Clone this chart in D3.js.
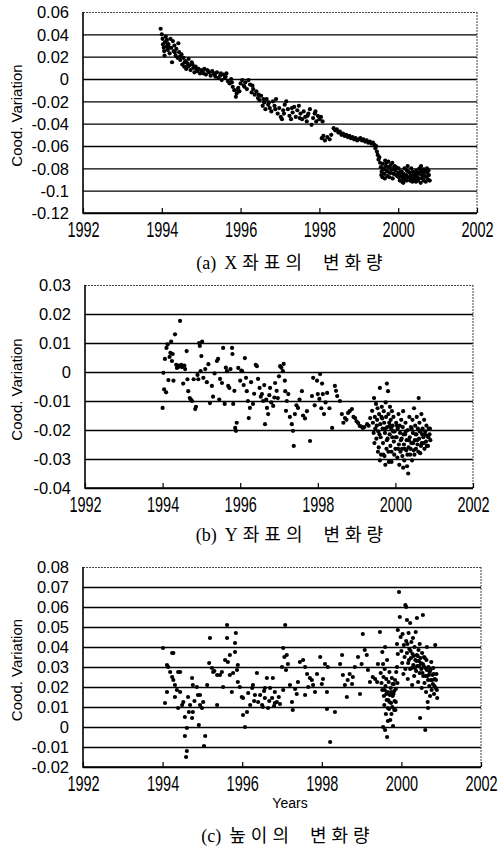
<!DOCTYPE html>
<html>
<head>
<meta charset="utf-8">
<script src="https://cdn.jsdelivr.net/npm/d3@7"></script>
<style>
  body { margin: 0; background: #fff; }
  svg { display: block; }
  .tick text { font-family: "Liberation Sans", Arial, sans-serif; fill: #000; }
</style>
</head>
<body>
<div id="chart"></div>
<script>
// year ticks shared by all three panels
var yearTicks = [1992, 1994, 1996, 1998, 2000, 2002];
var yTicksA = [-0.12, -0.1, -0.08, -0.06, -0.04, -0.02, 0, 0.02, 0.04, 0.06];
var yTicksB = [-0.04, -0.03, -0.02, -0.01, 0, 0.01, 0.02, 0.03];
var yTicksC = [-0.02, -0.01, 0, 0.01, 0.02, 0.03, 0.04, 0.05, 0.06, 0.07, 0.08];
var captions = ["(a) X좌표의 변화량", "(b) Y좌표의 변화량", "(c) 높이의 변화량"];
var yTitle = "Cood. Variation";
var xTitle = "Years";

// (a) X coordinate variation  [year, value]
var dataX = [
[1993.97,0.045],[1994.0,0.040],[1994.02,0.036],[1994.03,0.031],[1994.05,0.028],[1994.06,0.025],[1994.08,0.033],[1994.1,0.038],
[1994.12,0.029],[1994.13,0.035],[1994.15,0.026],[1994.17,0.031],[1994.2,0.023],[1994.22,0.036],[1994.24,0.028],[1994.26,0.015],
[1994.28,0.034],[1994.3,0.025],[1994.32,0.030],[1994.35,0.021],[1994.37,0.027],[1994.4,0.019],[1994.42,0.032],[1994.44,0.024],
[1994.47,0.017],[1994.5,0.022],[1994.52,0.013],[1994.55,0.019],[1994.57,0.011],[1994.6,0.016],[1994.62,0.009],[1994.65,0.014],
[1994.68,0.018],[1994.7,0.012],[1994.73,0.008],[1994.76,0.015],[1994.8,0.010],[1994.83,0.006],[1994.86,0.011],[1994.9,0.007],
[1994.93,0.009],[1994.97,0.005],[1995.0,0.008],[1995.04,0.006],[1995.08,0.009],[1995.12,0.004],[1995.15,0.008],[1995.2,0.006],
[1995.24,0.003],[1995.28,0.007],[1995.32,0.005],[1995.36,0.002],[1995.4,0.006],[1995.44,0.001],[1995.48,0.003],[1995.52,-0.001],
[1995.56,0.004],[1995.6,0.001],[1995.64,0.005],[1995.68,-0.002],[1995.72,-0.004],[1995.76,0.000],[1995.8,-0.007],[1995.84,-0.010],
[1995.88,-0.016],[1995.9,-0.013],[1995.94,-0.008],[1995.97,-0.011],[1996.0,-0.004],[1996.04,-0.001],[1996.08,-0.006],[1996.12,-0.003],
[1996.16,-0.009],[1996.2,-0.001],[1996.24,-0.005],[1996.28,-0.012],[1996.32,-0.009],[1996.36,-0.014],[1996.4,-0.011],[1996.44,-0.017],
[1996.48,-0.019],[1996.52,-0.015],[1996.56,-0.024],[1996.6,-0.021],[1996.63,-0.027],[1996.66,-0.018],[1996.7,-0.023],[1996.74,-0.026],
[1996.78,-0.029],[1996.82,-0.020],[1996.86,-0.024],[1996.9,-0.018],[1996.94,-0.031],[1996.98,-0.026],[1997.02,-0.034],[1997.05,-0.036],
[1997.08,-0.028],[1997.12,-0.023],[1997.16,-0.020],[1997.2,-0.027],[1997.24,-0.033],[1997.28,-0.036],[1997.32,-0.030],[1997.36,-0.025],
[1997.4,-0.034],[1997.44,-0.028],[1997.48,-0.024],[1997.52,-0.031],[1997.56,-0.036],[1997.6,-0.029],[1997.64,-0.034],[1997.68,-0.038],
[1997.72,-0.031],[1997.76,-0.027],[1997.8,-0.041],[1997.84,-0.035],[1997.88,-0.031],[1997.92,-0.038],[1997.96,-0.033],[1998.0,-0.036],
[1998.04,-0.034],[1998.08,-0.038],
[1994.07,0.021],[1994.14,0.032],[1994.19,0.028],[1994.33,0.024],[1994.46,0.020],[1994.58,0.015],[1994.66,0.011],[1994.78,0.013],
[1994.88,0.009],[1995.06,0.005],[1995.18,0.007],[1995.34,0.004],[1995.5,0.005],[1995.62,0.002],[1995.78,-0.003],[1995.92,-0.010],
[1996.1,-0.007],[1996.3,-0.006],[1996.46,-0.014],[1996.58,-0.018],[1996.72,-0.021],[1996.88,-0.027],[1997.1,-0.031],[1997.3,-0.026],
[1997.5,-0.035],[1997.7,-0.033],[1997.9,-0.029],
[1998.06,-0.053],[1998.1,-0.051],[1998.14,-0.055],[1998.2,-0.052],[1998.26,-0.054],[1998.3,-0.050],[1998.36,-0.044],[1998.4,-0.046],
[1998.44,-0.045],[1998.48,-0.048],[1998.52,-0.047],[1998.56,-0.050],[1998.6,-0.049],[1998.64,-0.051],[1998.68,-0.050],[1998.72,-0.052],
[1998.76,-0.051],[1998.8,-0.053],[1998.84,-0.052],[1998.88,-0.054],[1998.92,-0.053],[1998.96,-0.055],[1999.0,-0.054],[1999.04,-0.053],
[1999.08,-0.055],[1999.12,-0.054],[1999.16,-0.056],[1999.2,-0.055],[1999.24,-0.057],[1999.28,-0.056],[1999.32,-0.058],[1999.36,-0.057],
[1999.4,-0.059],[1999.42,-0.062],[1999.44,-0.060],[1999.46,-0.065],[1999.48,-0.068],[1999.5,-0.072],[1999.52,-0.070],[1999.54,-0.075],
[1999.56,-0.079],[1999.58,-0.083],[1999.6,-0.088],[1999.61,-0.076],[1999.63,-0.081],[1999.65,-0.085],[1999.67,-0.073],[1999.69,-0.078],
[1999.71,-0.082],[1999.73,-0.087],[1999.75,-0.074],[1999.77,-0.079],[1999.79,-0.084],[1999.81,-0.077],[1999.83,-0.081],[1999.85,-0.075],
[1999.87,-0.080],[1999.89,-0.085],[1999.91,-0.078],[1999.93,-0.082],[1999.95,-0.086],[1999.97,-0.080],[2000.0,-0.084],[2000.02,-0.088],
[2000.04,-0.091],[2000.06,-0.083],[2000.08,-0.087],[2000.1,-0.092],[2000.12,-0.089],[2000.14,-0.085],[2000.16,-0.080],[2000.18,-0.090],
[2000.2,-0.086],[2000.22,-0.082],[2000.24,-0.078],[2000.26,-0.083],[2000.28,-0.088],[2000.3,-0.091],[2000.32,-0.086],[2000.34,-0.089],
[2000.36,-0.092],[2000.38,-0.087],[2000.4,-0.084],[2000.42,-0.090],[2000.44,-0.086],[2000.46,-0.082],[2000.48,-0.088],[2000.5,-0.091],
[2000.52,-0.085],[2000.54,-0.080],[2000.56,-0.083],[2000.58,-0.078],[2000.6,-0.086],[2000.62,-0.089],[2000.64,-0.084],[2000.66,-0.081],
[2000.68,-0.087],[2000.7,-0.092],[2000.72,-0.088],[2000.74,-0.084],[2000.76,-0.090],[2000.78,-0.086],[2000.8,-0.091],
[1999.57,-0.086],[1999.62,-0.080],[1999.66,-0.089],[1999.7,-0.075],[1999.74,-0.083],[1999.78,-0.088],[1999.82,-0.084],[1999.86,-0.089],
[1999.9,-0.081],[1999.94,-0.079],[1999.98,-0.087],[2000.01,-0.080],[2000.05,-0.086],[2000.09,-0.083],[2000.13,-0.093],[2000.17,-0.087],
[2000.21,-0.091],[2000.25,-0.088],[2000.29,-0.084],[2000.33,-0.080],[2000.37,-0.083],[2000.41,-0.088],[2000.45,-0.092],[2000.49,-0.084],
[2000.53,-0.089],[2000.57,-0.093],[2000.61,-0.081],[2000.65,-0.091],[2000.69,-0.083],[2000.73,-0.080],[2000.77,-0.082]
];

// (b) Y coordinate variation
var dataY = [
[1994.0,-0.0124],[1994.02,-0.0003],[1994.04,-0.006],[1994.06,0.0045],[1994.09,-0.007],[1994.1,0.0083],[1994.13,0.0095],[1994.15,-0.0028],
[1994.18,0.0052],[1994.2,0.0066],[1994.22,0.0105],[1994.24,0.0038],[1994.26,0.0062],[1994.28,-0.003],[1994.32,0.013],[1994.35,0.0025],
[1994.37,0.0014],[1994.4,0.0022],[1994.42,0.0018],[1994.45,0.0176],[1994.48,0.0025],[1994.5,0.0017],[1994.53,-0.004],[1994.56,0.0022],
[1994.58,0.001],[1994.62,0.0072],[1994.64,-0.0025],[1994.66,-0.0066],[1994.7,-0.009],[1994.73,-0.0095],[1994.76,-0.01],[1994.8,-0.0025],
[1994.84,-0.0128],[1994.86,-0.012],[1994.9,-0.001],[1994.92,-0.0025],[1994.94,0.01],[1994.96,0.009],[1994.98,0.0003],[1995.0,0.0055],
[1995.02,0.0105],[1995.05,-0.002],[1995.1,0.001],[1995.14,-0.0035],[1995.18,0.0027],[1995.22,-0.0107],[1995.27,-0.0048],[1995.3,-0.0085],
[1995.34,-0.0005],[1995.4,0.0038],[1995.43,0.0045],[1995.46,-0.0095],[1995.48,-0.0024],[1995.53,-0.0038],[1995.56,0.0083],[1995.6,-0.011],
[1995.63,0.0015],[1995.66,0.0003],[1995.69,-0.0048],[1995.72,-0.0055],[1995.75,0.001],[1995.79,0.0083],[1995.8,0.0062],[1995.82,-0.011],
[1995.85,-0.0065],[1995.87,-0.0193],[1995.89,-0.0203],[1995.91,-0.0175],[1995.95,0.0014],[1996.0,-0.003],[1996.03,0.0005],[1996.05,0.0003],
[1996.09,-0.0045],[1996.12,0.0048],[1996.15,-0.002],[1996.17,-0.0066],[1996.2,-0.01],[1996.22,-0.0159],[1996.25,-0.0124],[1996.28,-0.0035],
[1996.33,-0.011],[1996.36,-0.0075],[1996.4,0.0025],[1996.43,0.002],[1996.46,-0.0024],[1996.5,-0.0055],[1996.53,-0.0085],[1996.56,-0.0076],
[1996.59,-0.01],[1996.62,-0.0045],[1996.64,-0.018],[1996.67,-0.0095],[1996.69,-0.0124],[1996.72,-0.0145],[1996.75,-0.008],[1996.77,-0.0055],
[1996.8,-0.0105],[1996.85,-0.0117],[1996.88,-0.0088],[1996.9,-0.0038],[1996.94,-0.0065],[1996.97,-0.009],[1997.0,-0.0015],[1997.03,0.002],
[1997.06,0.0015],[1997.1,0.0003],[1997.12,0.0028],[1997.15,-0.003],[1997.16,-0.0066],[1997.18,-0.0134],[1997.2,-0.01],[1997.24,-0.0076],
[1997.28,-0.0155],[1997.33,-0.018],[1997.36,-0.0203],[1997.38,-0.0255],[1997.41,-0.0145],[1997.45,-0.0115],[1997.49,-0.0124],[1997.53,-0.0095],
[1997.59,-0.0066],[1997.62,-0.015],[1997.67,-0.016],[1997.72,-0.0135],[1997.8,-0.0238],[1997.85,-0.0083],[1997.88,-0.002],[1997.92,-0.0115],
[1997.98,-0.003],[1998.0,-0.0076],[1998.04,-0.0093],[1998.06,-0.0007],[1998.09,-0.0125],[1998.11,-0.004],[1998.13,-0.0076],[1998.16,-0.0145],
[1998.2,-0.0105],[1998.24,-0.0072],[1998.3,-0.0125],[1998.37,-0.0193],[1998.44,-0.0048],[1998.47,-0.0065],[1998.5,-0.0083],[1998.57,-0.01],
[1998.62,-0.0145],[1998.66,-0.0175],[1998.7,-0.0159],[1998.74,-0.0165],[1998.78,-0.0141],[1998.82,-0.0135],[1998.88,-0.0128],[1998.92,-0.0155],
[1998.96,-0.0159],[1999.0,-0.017],[1999.04,-0.0176],[1999.08,-0.0186],[1999.12,-0.0188],[1999.16,-0.0193],[1999.2,-0.019],[1999.27,-0.018],
[1999.31,-0.0185],[1999.35,-0.0159],
[1999.4,-0.0134],[1999.42,-0.0175],[1999.44,-0.021],[1999.45,-0.009],[1999.47,-0.0155],[1999.48,-0.0195],[1999.5,-0.011],[1999.51,-0.023],
[1999.53,-0.0165],[1999.54,-0.0125],[1999.56,-0.0205],[1999.57,-0.026],[1999.58,-0.0145],[1999.6,-0.0055],[1999.6,-0.0305],[1999.61,-0.018],
[1999.62,-0.0225],[1999.63,-0.0285],[1999.65,-0.012],[1999.66,-0.016],[1999.67,-0.0195],[1999.68,-0.0245],[1999.7,-0.0135],[1999.71,-0.0175],
[1999.72,-0.029],[1999.73,-0.021],[1999.74,-0.032],[1999.75,-0.0105],[1999.76,-0.0155],[1999.77,-0.0265],[1999.78,-0.004],[1999.79,-0.019],
[1999.8,-0.023],[1999.81,-0.0066],[1999.82,-0.0145],[1999.83,-0.031],[1999.84,-0.0175],[1999.85,-0.0215],[1999.86,-0.012],[1999.87,-0.0255],
[1999.88,-0.0165],[1999.89,-0.0195],[1999.9,-0.0275],[1999.9,-0.031],[1999.91,-0.0135],[1999.92,-0.0225],[1999.93,-0.0185],[1999.95,-0.0155],
[1999.96,-0.024],[1999.98,-0.0205],[2000.0,-0.0265],[2000.02,-0.0175],[2000.03,-0.0225],[2000.05,-0.0295],[2000.06,-0.0195],[2000.08,-0.0145],
[2000.09,-0.025],[2000.1,-0.032],[2000.12,-0.021],[2000.13,-0.0275],[2000.15,-0.0165],[2000.16,-0.023],[2000.18,-0.029],[2000.19,-0.019],
[2000.2,-0.0135],[2000.2,-0.033],[2000.22,-0.025],[2000.23,-0.0305],[2000.25,-0.0215],[2000.26,-0.0175],[2000.28,-0.027],[2000.29,-0.0235],
[2000.3,-0.0325],[2000.32,-0.02],[2000.33,-0.035],[2000.34,-0.026],[2000.36,-0.0155],[2000.37,-0.0225],[2000.38,-0.0285],[2000.4,-0.019],
[2000.41,-0.0245],[2000.43,-0.0305],[2000.44,-0.0165],[2000.45,-0.021],[2000.47,-0.027],[2000.48,-0.0125],[2000.5,-0.0235],[2000.51,-0.0185],
[2000.53,-0.0265],[2000.54,-0.0215],[2000.55,-0.0155],[2000.57,-0.025],[2000.58,-0.0195],[2000.6,-0.009],[2000.61,-0.023],[2000.62,-0.0175],
[2000.64,-0.028],[2000.65,-0.0205],[2000.67,-0.0145],[2000.68,-0.0245],[2000.7,-0.0195],[2000.72,-0.0225],[2000.74,-0.0165],[2000.75,-0.0265],
[2000.77,-0.0205],[2000.79,-0.024],[2000.8,-0.0185],[2000.82,-0.022],[2000.84,-0.0255],[2000.86,-0.0195],[2000.88,-0.0215],[2000.9,-0.0235],
[1999.46,-0.0245],[1999.52,-0.0185],[1999.55,-0.0275],[1999.59,-0.0215],[1999.64,-0.0155],[1999.69,-0.0285],[1999.74,-0.0195],[1999.78,-0.0235],
[1999.82,-0.0275],[1999.86,-0.0185],[1999.94,-0.0205],[1999.97,-0.0285],[2000.01,-0.0225],[2000.04,-0.0185],[2000.07,-0.0265],[2000.11,-0.0185],
[2000.14,-0.0235],[2000.17,-0.0265],[2000.21,-0.0215],[2000.24,-0.0265],[2000.27,-0.0205],[2000.31,-0.0285],[2000.35,-0.0235],[2000.39,-0.0265],
[2000.42,-0.0195],[2000.46,-0.0245],[2000.49,-0.0285],[2000.52,-0.0215],[2000.56,-0.0235],[2000.59,-0.0275],[2000.63,-0.0205],[2000.66,-0.0255],
[2000.69,-0.0215],[2000.73,-0.0245],[2000.76,-0.0215],[2000.81,-0.0255],[2000.85,-0.0225],[2000.89,-0.0195]
];

// (c) height variation
var dataH = [
[1994.01,0.0395],[1994.06,0.012],[1994.11,0.031],[1994.11,0.0175],[1994.14,0.030],[1994.19,0.0275],[1994.24,0.037],[1994.24,0.025],
[1994.27,0.037],[1994.27,0.0235],[1994.31,0.021],[1994.31,0.015],[1994.36,0.0185],[1994.39,0.0275],[1994.39,0.0095],[1994.44,0.0275],
[1994.44,0.0175],[1994.49,0.011],[1994.52,0.0125],[1994.56,0.005],[1994.56,-0.0045],[1994.59,-0.015],[1994.61,-0.0005],[1994.61,-0.012],
[1994.64,0.015],[1994.66,0.0075],[1994.69,0.011],[1994.74,0.0245],[1994.74,0.0045],[1994.76,0.021],[1994.76,0.0075],[1994.8,0.013],
[1994.86,0.020],[1994.89,0.016],[1994.91,0.001],[1994.94,0.016],[1994.94,0.011],[1994.99,0.0095],[1995.02,0.0125],[1995.04,-0.0095],
[1995.07,-0.0045],[1995.12,0.021],[1995.17,0.032],[1995.19,0.0445],[1995.24,0.0295],[1995.27,0.0275],[1995.3,0.028],[1995.37,0.026],
[1995.37,0.011],[1995.44,0.026],[1995.49,0.0275],[1995.52,0.020],[1995.57,0.0335],[1995.62,0.0445],[1995.62,0.051],[1995.64,0.0325],
[1995.69,0.036],[1995.69,0.026],[1995.74,0.0175],[1995.77,0.027],[1995.82,0.042],[1995.82,0.0375],[1995.84,0.047],[1995.87,0.0285],
[1995.89,0.031],[1995.89,0.0225],[1995.94,0.020],[1995.99,0.015],[1996.02,0.0145],[1996.02,0.006],[1996.07,0.0],[1996.12,0.0075],
[1996.15,0.017],[1996.2,0.011],[1996.25,0.0195],[1996.27,0.021],[1996.3,0.013],[1996.32,0.016],[1996.37,0.027],[1996.4,0.0125],
[1996.45,0.016],[1996.5,0.011],[1996.52,0.010],[1996.55,0.018],[1996.57,0.0145],[1996.57,0.0195],[1996.62,0.0245],[1996.65,0.0095],
[1996.68,0.013],[1996.7,0.0195],[1996.75,0.0145],[1996.77,0.0245],[1996.8,0.0105],[1996.82,0.012],[1996.82,0.0175],[1996.87,0.0125],
[1996.92,0.015],[1996.95,0.0115],[1997.0,0.030],[1997.03,0.0395],[1997.03,0.0185],[1997.06,0.035],[1997.08,0.051],[1997.1,0.0285],
[1997.12,0.036],[1997.15,0.0315],[1997.2,0.021],[1997.25,0.0125],[1997.27,0.0085],[1997.33,0.019],[1997.37,0.0165],[1997.4,0.0225],
[1997.45,0.0325],[1997.53,0.0335],[1997.58,0.030],[1997.58,0.016],[1997.63,0.0265],[1997.66,0.020],[1997.7,0.0245],[1997.75,0.0235],
[1997.78,0.021],[1997.83,0.0175],[1997.88,0.0265],[1997.96,0.035],[1998.0,0.0215],[1998.03,0.024],[1998.08,0.0315],[1998.13,0.0175],
[1998.13,0.009],[1998.15,0.030],[1998.21,-0.0075],[1998.33,0.0075],[1998.46,0.0315],[1998.51,0.036],[1998.53,0.026],[1998.58,0.021],
[1998.63,0.015],[1998.65,0.0235],[1998.7,0.0265],[1998.76,0.0215],[1998.78,0.025],[1998.83,0.030],[1998.91,0.035],[1998.96,0.0165],
[1999.0,0.0315],[1999.03,0.0465],[1999.08,0.0385],[1999.13,0.036],[1999.16,0.0285],[1999.21,0.0225],[1999.28,0.025],[1999.34,0.024],
[1999.39,0.0225],[1999.41,0.0315],[1999.46,0.0475],[1999.52,0.0375],[1999.54,0.0315],[1999.59,0.040],[1999.64,0.0335],
[1999.48,0.027],[1999.5,0.022],[1999.52,0.0185],[1999.54,0.0],[1999.55,0.025],[1999.56,0.0155],[1999.57,0.011],[1999.58,0.029],
[1999.59,-0.0015],[1999.6,0.0205],[1999.61,0.0065],[1999.62,0.024],[1999.63,0.0135],[1999.64,-0.005],[1999.65,0.0175],[1999.66,0.003],
[1999.67,0.0135],[1999.68,0.0225],[1999.69,0.009],[1999.7,0.0275],[1999.71,0.016],[1999.72,0.0035],[1999.73,0.0195],[1999.74,0.012],
[1999.75,0.0065],[1999.76,0.0245],[1999.77,0.010],[1999.78,0.0155],[1999.79,0.0005],[1999.8,0.0165],[1999.81,0.0215],[1999.82,0.0085],
[1999.83,0.013],[1999.84,0.0235],[1999.85,0.0085],[1999.86,0.019],[1999.87,0.0275],[1999.89,0.030],[1999.89,0.0415],[1999.91,0.0365],
[1999.91,0.0485],[1999.94,0.0675],[1999.96,0.055],
[1999.58,0.0185],[1999.62,0.0165],[1999.66,0.0095],[1999.7,0.0125],[1999.74,0.0175],[1999.78,0.0215],[1999.82,0.018],[1999.86,0.0125],
[1999.9,0.022],
[1999.98,0.045],[2000.0,0.038],[2000.02,0.032],[2000.03,0.0465],[2000.05,0.0265],[2000.06,0.041],[2000.08,0.035],[2000.1,0.061],
[2000.1,0.029],[2000.12,0.060],[2000.12,0.043],[2000.14,0.0535],[2000.14,0.037],[2000.16,0.024],[2000.17,0.032],[2000.18,0.047],
[2000.2,0.039],[2000.22,0.052],[2000.22,0.029],[2000.24,0.0345],[2000.25,0.0425],[2000.27,0.021],[2000.28,0.0365],[2000.29,0.0445],
[2000.3,0.031],[2000.32,0.0255],[2000.33,0.040],[2000.35,0.0335],[2000.36,0.0475],[2000.37,0.028],[2000.39,0.0545],[2000.39,0.036],
[2000.4,0.0305],[2000.42,0.0225],[2000.43,0.0385],[2000.44,0.033],[2000.46,0.0415],[2000.46,0.027],[2000.47,0.0045],[2000.48,0.0345],
[2000.5,0.029],[2000.51,0.0195],[2000.52,0.037],[2000.54,0.056],[2000.54,0.0315],[2000.55,0.0255],[2000.57,0.035],[2000.58,0.022],
[2000.6,0.0295],[2000.6,-0.0015],[2000.62,0.0175],[2000.63,0.0335],[2000.64,0.040],[2000.65,0.0255],[2000.66,0.0125],[2000.67,0.0095],
[2000.68,0.030],[2000.7,0.0205],[2000.71,0.0275],[2000.72,0.0155],[2000.74,0.0235],[2000.75,0.0325],[2000.76,0.0185],[2000.78,0.026],
[2000.79,0.0215],[2000.8,0.0295],[2000.82,0.0165],[2000.84,0.024],[2000.85,0.041],[2000.86,0.0195],[2000.88,0.0265],[2000.9,0.0145],
[2000.15,0.0415],[2000.19,0.0335],[2000.23,0.038],[2000.26,0.0295],[2000.31,0.0355],[2000.34,0.0295],[2000.38,0.033],[2000.41,0.0355],
[2000.45,0.0305],[2000.49,0.032],[2000.53,0.027],[2000.56,0.0305],[2000.59,0.0345],[2000.61,0.0255],[2000.64,0.0285],[2000.67,0.0235],
[2000.69,0.026],[2000.73,0.0285],[2000.77,0.0235],[2000.81,0.0265],[2000.83,0.0205],[2000.87,0.0235],[2000.89,0.0185]
];

var W = 498, H = 853;

// plot boxes
var panels = [
    { data: dataX, ticks: yTicksA, caption: captions[0], left: 83, right: 477, top: 12,  bottom: 213, capX: 292, capY: 269 },
    { data: dataY, ticks: yTicksB, caption: captions[1], left: 85, right: 473, top: 285, bottom: 488, capX: 292, capY: 541 },
    { data: dataH, ticks: yTicksC, caption: captions[2], left: 83, right: 481, top: 567, bottom: 767, capX: 288, capY: 842, years: true }
];

var svg = d3.select('#chart').append('svg')
    .attr('width', W)
    .attr('height', H);

var fmt = function(d) { return d === 0 ? '0' : String(+d.toFixed(2)); };

panels.forEach(drawPanel);

function drawPanel(p) {
    var w = p.right - p.left,
        h = p.bottom - p.top;

    var x = d3.scaleLinear().domain([1992, 2002]).range([0, w]);
    var y = d3.scaleLinear().domain(d3.extent(p.ticks)).range([h, 0]);

    var g = svg.append('g')
        .attr('transform', 'translate(' + p.left + ',' + p.top + ')');

    // gridlines + y labels
    var ya = g.append('g')
        .call(d3.axisLeft(y).tickValues(p.ticks).tickSize(-w).tickPadding(14).tickFormat(fmt));
    ya.select('.domain').remove();
    ya.selectAll('.tick line').attr('stroke', '#000').attr('stroke-width', 1.4);
    ya.selectAll('.tick text').style('font-size', '16.5px').attr('dy', '0.36em');

    // top and right edges are faint dotted in the scan
    ya.selectAll('.tick').filter(function(d) { return d === d3.max(p.ticks); })
        .select('line').attr('stroke', '#444').attr('stroke-width', 1).attr('stroke-dasharray', '2,1');
    g.append('line')
        .attr('x1', w).attr('x2', w).attr('y1', 0).attr('y2', h)
        .attr('stroke', '#444').attr('stroke-width', 1).attr('stroke-dasharray', '2,1');

    // x axis with inward ticks
    var xa = g.append('g')
        .attr('transform', 'translate(0,' + h + ')')
        .call(d3.axisBottom(x).tickValues(yearTicks).tickSize(-5).tickFormat(d3.format('d')));
    xa.select('.domain').remove();
    xa.selectAll('.tick line').attr('stroke', '#000').attr('stroke-width', 1.2);
    xa.selectAll('.tick text')
        .style('font-size', '14.5px')
        .attr('dy', 0)
        .attr('y', 16)
        .attr('transform', 'scale(1,1.5)');

    // left / bottom frame
    g.append('path')
        .attr('d', 'M0,0V' + h + 'H' + w)
        .attr('fill', 'none')
        .attr('stroke', '#000')
        .attr('stroke-width', 1.6);

    g.append('g')
        .selectAll('circle')
        .data(p.data)
        .enter().append('circle')
        .attr('cx', function(d) { return x(d[0]); })
        .attr('cy', function(d) { return y(d[1]); })
        .attr('r', 2.1)
        .attr('fill', '#000');

    svg.append('text')
        .attr('transform', 'translate(22,' + (p.top + h / 2 + 3) + ') rotate(-90)')
        .attr('text-anchor', 'middle')
        .style('font-family', '"Liberation Sans", Arial, sans-serif')
        .style('font-size', '15px')
        .text(yTitle);

    if (p.years) {
        svg.append('text')
            .attr('x', 290)
            .attr('y', p.bottom + 41)
            .attr('text-anchor', 'middle')
            .style('font-family', '"Liberation Sans", Arial, sans-serif')
            .style('font-size', '14px')
            .text(xTitle);
    }

    // caption: "(a)" then two words, spaced like the scan
    var words = p.caption.split(' ');
    var cap = svg.append('text')
        .attr('x', p.capX)
        .attr('y', p.capY)
        .attr('text-anchor', 'middle')
        .style('font-family', '"Liberation Serif", "Noto Sans CJK KR", serif')
        .style('font-size', '18px');
    cap.selectAll('tspan')
        .data(words)
        .enter().append('tspan')
        .attr('dx', function(d, i) { return i === 0 ? 0 : (i === 1 ? 8 : 16); })
        .style('letter-spacing', function(d, i) { return i === 0 ? '0px' : '5px'; })
        .text(function(d) { return d; });
}
</script>
</body>
</html>
